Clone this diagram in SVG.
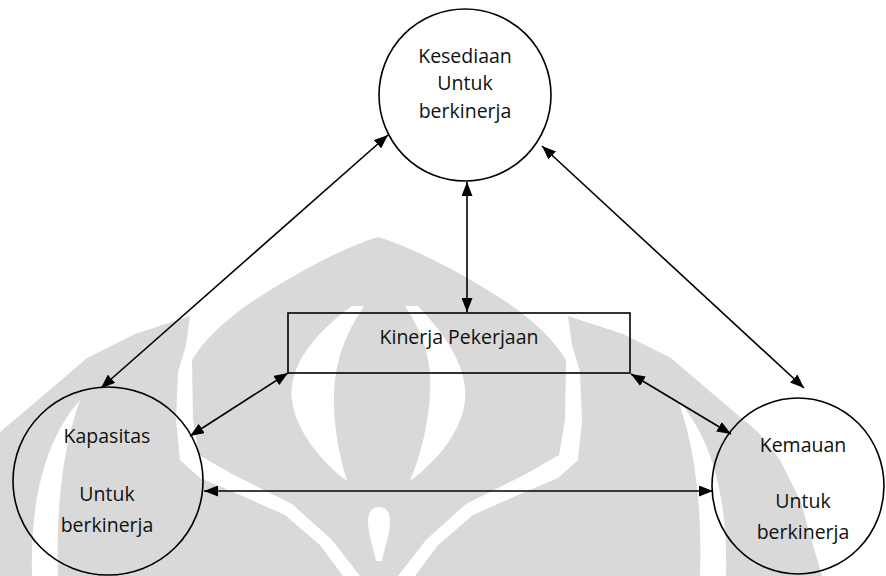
<svg xmlns="http://www.w3.org/2000/svg" width="886" height="576" viewBox="0 0 886 576">
  <style>
    .wm { fill: #d9d9d9; stroke: none; }
    .wm-cut { fill: #ffffff; stroke: none; }
    .node { fill: none; stroke: #000000; stroke-width: 1.6; }
    .label { font-family: "Open Sans", "Liberation Sans", sans-serif; font-size: 19.5px; fill: #111111; text-anchor: middle; }
    .link { fill: none; stroke: #000000; stroke-width: 1.6; marker-start: url(#head); marker-end: url(#head); }
  </style>
  <defs>
    <marker id="head" viewBox="0 0 14 11" refX="14" refY="5.5" markerWidth="14" markerHeight="11" markerUnits="userSpaceOnUse" orient="auto-start-reverse">
      <path d="M0,0 L14,5.5 L0,11 Z" fill="#000000"/>
    </marker>
  </defs>

  <rect x="0" y="0" width="886" height="576" fill="#ffffff"/>

  <!-- background emblem -->
  <g id="emblem">
    <!-- left petal -->
    <path class="wm" d="M0,432 L45,394 L87,358 L135,334 L190,316 L186,345 L178,372 L176,420 L180,460 L200,478 L240,495 L285,515 L320,545 L343,576 L0,576 Z"/>
    <!-- right petal -->
    <path class="wm" d="M758,432 L713,394 L671,358 L623,334 L568,316 L572,345 L580,372 L582,420 L578,460 L558,478 L518,495 L473,515 L438,545 L415,576 L822,576 L800,500 L780,460 Z"/>
    <!-- central dome -->
    <path class="wm" d="M378,237 C350,245 300,270 250,303 C222,323 204,340 192,360 L193,420 L199,455 L232,474 L292,504 L332,540 L360,576 L398,576 L426,540 L466,504 L526,474 L559,455 L565,420 L566,360 C554,340 536,323 508,303 C458,270 406,245 378,237 Z"/>
    <!-- crescents -->
    <path class="wm-cut" d="M80,400 C45,440 30,500 32,576 L58,576 C56,510 62,450 80,400 Z"/>
    <path class="wm-cut" d="M678,400 C713,440 728,500 726,576 L700,576 C702,510 696,450 678,400 Z"/>
    <!-- inner vase -->
    <path class="wm-cut" d="M352,306 C312,335 288,368 292,400 C296,432 322,462 347,481 C338,452 333,420 334,392 C335,362 345,334 364,306 Z"/>
    <path class="wm-cut" d="M405,306 C424,334 432,362 430,392 C429,420 422,452 410,481 C436,462 462,432 465,400 C468,368 446,335 418,306 Z"/>
    <!-- stem drop -->
    <path class="wm-cut" d="M379,507 C372,507 368,512 368,521 C368,535 374,549 376,561 L382,561 C384,549 390,535 390,521 C390,512 386,507 379,507 Z"/>
  </g>

  <!-- connectors -->
  <g id="connectors">
    <line class="link" x1="388" y1="135" x2="101" y2="388"/>
    <line class="link" x1="542" y1="146" x2="804" y2="388"/>
    <line class="link" x1="467" y1="182" x2="467" y2="312"/>
    <line class="link" x1="288" y1="373" x2="190" y2="436"/>
    <line class="link" x1="631" y1="374" x2="731" y2="434"/>
    <line class="link" x1="204" y1="491" x2="713" y2="491"/>
  </g>

  <g id="node-kesediaan">
    <circle class="node" cx="465" cy="95" r="86"/>
    <text class="label" x="465" y="63">Kesediaan</text>
    <text class="label" x="465" y="90">Untuk</text>
    <text class="label" x="465" y="118">berkinerja</text>
  </g>

  <g id="node-kinerja">
    <rect class="node" x="288" y="313" width="342" height="60"/>
    <text class="label" x="459" y="344">Kinerja Pekerjaan</text>
  </g>

  <g id="node-kapasitas">
    <ellipse class="node" cx="108" cy="481" rx="95" ry="94"/>
    <text class="label" x="107" y="443">Kapasitas</text>
    <text class="label" x="107" y="501">Untuk</text>
    <text class="label" x="107" y="532">berkinerja</text>
  </g>

  <g id="node-kemauan">
    <ellipse class="node" cx="798" cy="486" rx="86" ry="88"/>
    <text class="label" x="803" y="452">Kemauan</text>
    <text class="label" x="803" y="508">Untuk</text>
    <text class="label" x="803" y="539">berkinerja</text>
  </g>
</svg>
